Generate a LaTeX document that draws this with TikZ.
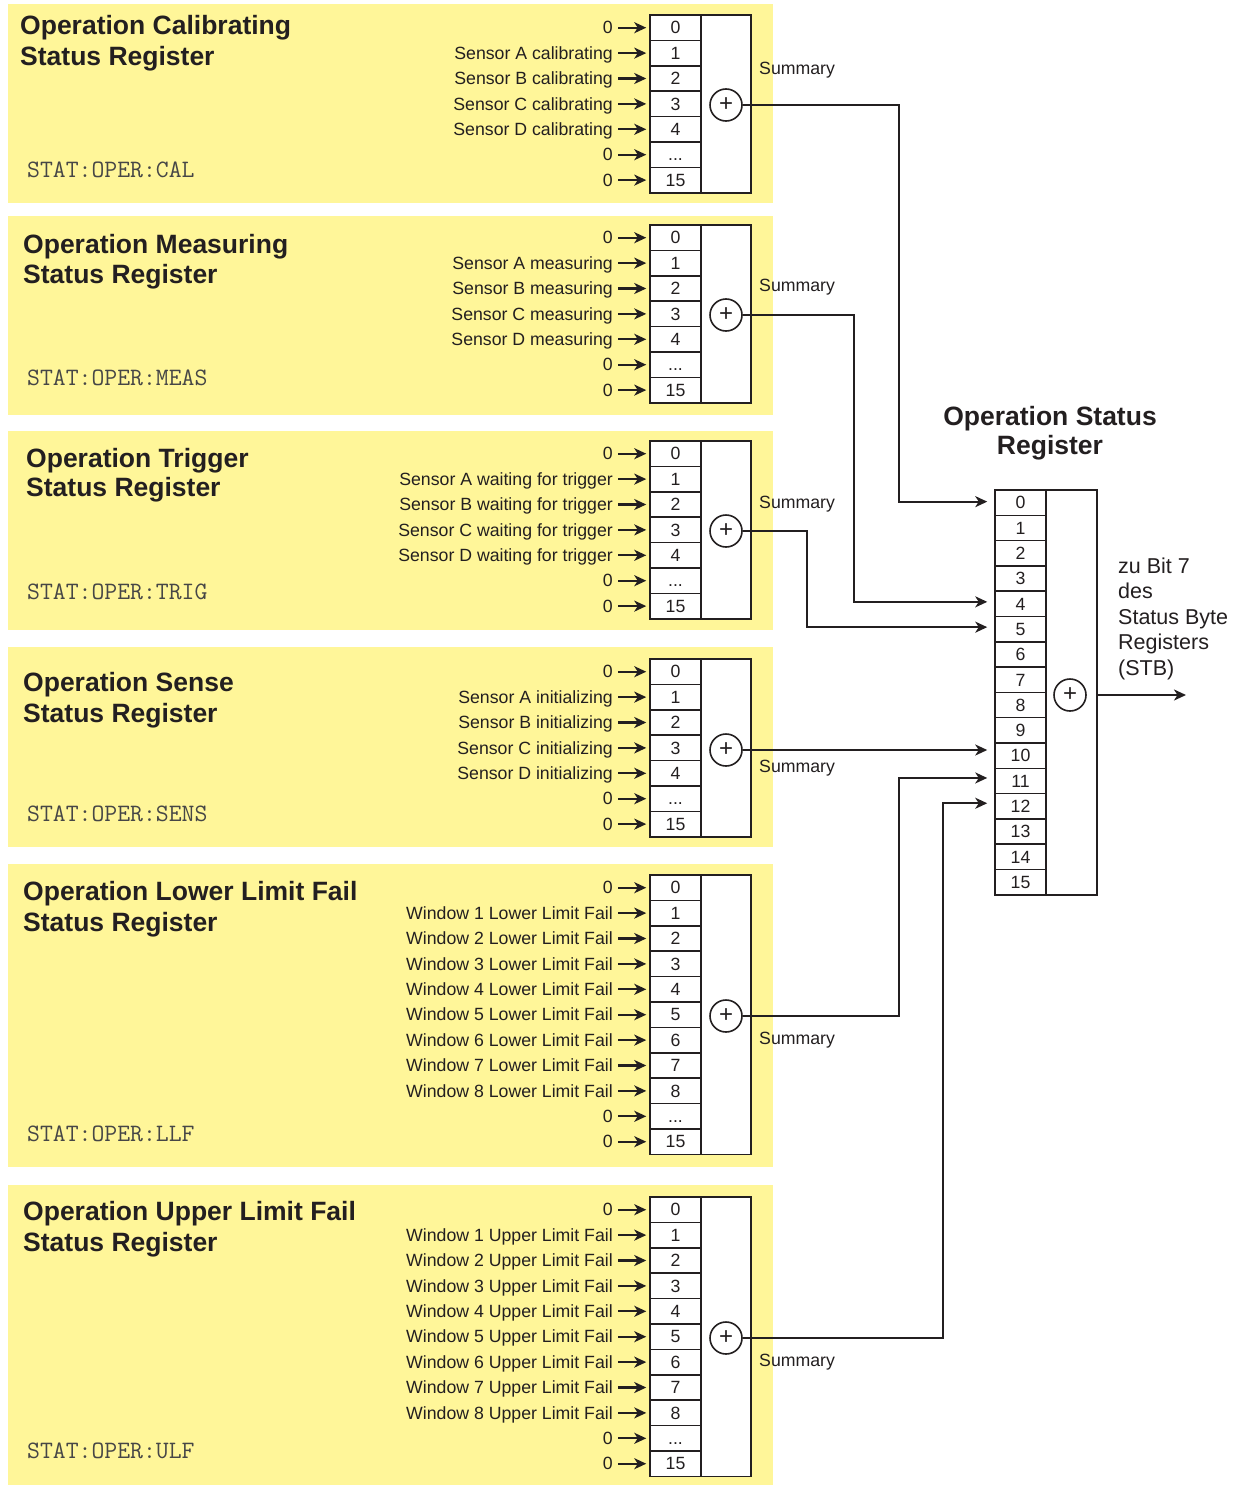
\documentclass[tikz,border=0pt]{standalone}
\usepackage{fontspec}
\setmainfont{Liberation Sans}
\setmonofont{Latin Modern Mono}
\usetikzlibrary{arrows.meta}
\definecolor{panelyellow}{RGB}{255,246,153}
\definecolor{ink}{RGB}{35,31,32}
\definecolor{monoink}{RGB}{70,70,70}
\newcommand\labfont{\fontsize{17.7}{20}\selectfont}
\newcommand\tdots{...}
\tikzset{
  panel/.style={fill=panelyellow, draw=none},
  title/.style={anchor=base west, inner sep=0, font=\fontsize{26.5}{30}\bfseries\selectfont, text=ink},
  maintitle/.style={anchor=base, inner sep=0, font=\fontsize{26.5}{30}\bfseries\selectfont, text=ink},
  cmd/.style={anchor=base west, inner sep=0, font=\fontsize{25}{28}\ttfamily\selectfont, text=monoink},
  bitcell/.style={draw=ink, line width=1.5pt, fill=white, minimum width=51pt, minimum height=25.4pt,
    inner sep=0, text height=12.5pt, text depth=0pt, font=\labfont, text=ink},
  mbitcell/.style={bitcell, minimum height=25.3pt},
  inlabel/.style={anchor=east, inner sep=0, text height=12.5pt, text depth=0pt, font=\labfont, text=ink},
  sumlabel/.style={anchor=west, inner sep=0, text height=12.5pt, text depth=0pt, font=\labfont, text=ink},
  sumcol/.style={draw=ink, line width=1.6pt, fill=white},
  sumc/.style={circle, draw=ink, line width=1.6pt, minimum size=32pt, inner sep=0, fill=white,
    font=\fontsize{24}{26}\selectfont, text=ink},
  tip/.style={-{Stealth[length=12pt, width=11pt, inset=3.5pt]}},
  inarrow/.style={draw=ink, line width=2.2pt, tip, shorten <=5pt, shorten >=3pt},
  conn/.style={draw=ink, line width=2pt, tip, shorten >=7pt},
  outconn/.style={draw=ink, line width=2pt, tip},
}
% #1 id, #2 top, #3 rows, #4 circle y, #5 bit labels, #6 input labels
\newcommand\regblock[6]{%
  \draw[sumcol] (701,#2) rectangle (751,{#2+#3*25.4});
  \foreach \lab [count=\i from 0] in {#5}{%
    \node[bitcell] (#1b\i) at (675.5,{#2+(\i+0.5)*25.4}) {\lab};}
  \foreach \txt [count=\i from 0] in {#6}{%
    \node[inlabel] (#1i\i) at (613,{#2+(\i+0.5)*25.4}) {\txt};
    \draw[inarrow] (#1i\i.east) -- (#1b\i.west);}
  \node[sumc] (#1s) at (726,#4) {+};
}
\begin{document}
\begin{tikzpicture}[x=1pt,y=-1pt]
\useasboundingbox (0,0) rectangle (1241,1485);
\fill[white] (0,0) rectangle (1241,1485);

% panels
\fill[panel] (8,4) rectangle (773,203);
\fill[panel] (8,216) rectangle (773,415);
\fill[panel] (8,431) rectangle (773,630);
\fill[panel] (8,647) rectangle (773,847);
\fill[panel] (8,864) rectangle (773,1167);
\fill[panel] (8,1185) rectangle (773,1485);

% titles
\node[title] (t1a) at (20,35) {Operation Calibrating};
\node[title] (t1b) at (20,66) {Status Register};
\node[title] (t2a) at (23,253) {Operation Measuring};
\node[title] (t2b) at (23,283) {Status Register};
\node[title] (t3a) at (26,467) {Operation Trigger};
\node[title] (t3b) at (26,496) {Status Register};
\node[title] (t4a) at (23,691) {Operation Sense};
\node[title] (t4b) at (23,722) {Status Register};
\node[title] (t5a) at (23,900) {Operation Lower Limit Fail};
\node[title] (t5b) at (23,931) {Status Register};
\node[title] (t6a) at (23,1220) {Operation Upper Limit Fail};
\node[title] (t6b) at (23,1251) {Status Register};

% commands
\node[cmd] (c1) at (27,177) {STAT:OPER:CAL};
\node[cmd] (c2) at (27,385) {STAT:OPER:MEAS};
\node[cmd] (c3) at (27,599) {STAT:OPER:TRIG};
\node[cmd] (c4) at (27,821) {STAT:OPER:SENS};
\node[cmd] (c5) at (27,1141) {STAT:OPER:LLF};
\node[cmd] (c6) at (27,1458) {STAT:OPER:ULF};

% registers
\regblock{cal}{15}{7}{105}{0,1,2,3,4,\tdots,15}
  {0,Sensor A calibrating,Sensor B calibrating,Sensor C calibrating,Sensor D calibrating,0,0}
\regblock{meas}{225}{7}{315}{0,1,2,3,4,\tdots,15}
  {0,Sensor A measuring,Sensor B measuring,Sensor C measuring,Sensor D measuring,0,0}
\regblock{trig}{441}{7}{531}{0,1,2,3,4,\tdots,15}
  {0,Sensor A waiting for trigger,Sensor B waiting for trigger,Sensor C waiting for trigger,Sensor D waiting for trigger,0,0}
\regblock{sens}{659}{7}{750}{0,1,2,3,4,\tdots,15}
  {0,Sensor A initializing,Sensor B initializing,Sensor C initializing,Sensor D initializing,0,0}
\regblock{llf}{875}{11}{1016}{0,1,2,3,4,5,6,7,8,\tdots,15}
  {0,Window 1 Lower Limit Fail,Window 2 Lower Limit Fail,Window 3 Lower Limit Fail,Window 4 Lower Limit Fail,Window 5 Lower Limit Fail,Window 6 Lower Limit Fail,Window 7 Lower Limit Fail,Window 8 Lower Limit Fail,0,0}
\regblock{ulf}{1197}{11}{1338}{0,1,2,3,4,5,6,7,8,\tdots,15}
  {0,Window 1 Upper Limit Fail,Window 2 Upper Limit Fail,Window 3 Upper Limit Fail,Window 4 Upper Limit Fail,Window 5 Upper Limit Fail,Window 6 Upper Limit Fail,Window 7 Upper Limit Fail,Window 8 Upper Limit Fail,0,0}

% summary labels
\node[sumlabel] (sl1) at (759,68) {Summary};
\node[sumlabel] (sl2) at (759,285) {Summary};
\node[sumlabel] (sl3) at (759,502) {Summary};
\node[sumlabel] (sl4) at (759,766) {Summary};
\node[sumlabel] (sl5) at (759,1038) {Summary};
\node[sumlabel] (sl6) at (759,1360) {Summary};

% main register
\node[maintitle] (mt1) at (1050,425) {Operation Status};
\node[maintitle] (mt2) at (1050,454) {Register};
\node[draw=ink, line width=1.6pt, fill=white, minimum width=51pt, minimum height=404.8pt, inner sep=0]
  (mcol) at (1071.5,692.4) {};
\foreach \i in {0,...,15}{%
  \node[mbitcell] (m\i) at (1020.5,{490+(\i+0.5)*25.3}) {\i};}
\node[sumc] (ms) at (1070,695) {+};
\coordinate (stb) at (1186,695);
\draw[outconn] (ms -| mcol.east) -- (stb);
\node[anchor=north west, inner sep=0, align=left, font=\fontsize{21.5}{25.5}\selectfont, text=ink]
  (stbtext) at (1118,557.5) {zu Bit 7\\des\\Status Byte\\Registers\\(STB)};

% connectors
\draw[conn] (cals.east) -- ++(156,0) |- ([yshift=1pt]m0.west);
\draw[conn] (meass.east) -- ++(111.5,0) |- ([yshift=2pt]m4.west);
\draw[conn] (trigs.east) -- ++(64.5,0) |- ([yshift=2pt]m5.west);
\draw[conn] (senss.east) -- (senss.east -| m10.west);
\draw[conn] (llfs.east) -- ++(156,0) |- ([yshift=3pt]m11.west);
\draw[conn] (ulfs.east) -- ++(200.5,0) |- ([yshift=3pt]m12.west);
\end{tikzpicture}
\end{document}
